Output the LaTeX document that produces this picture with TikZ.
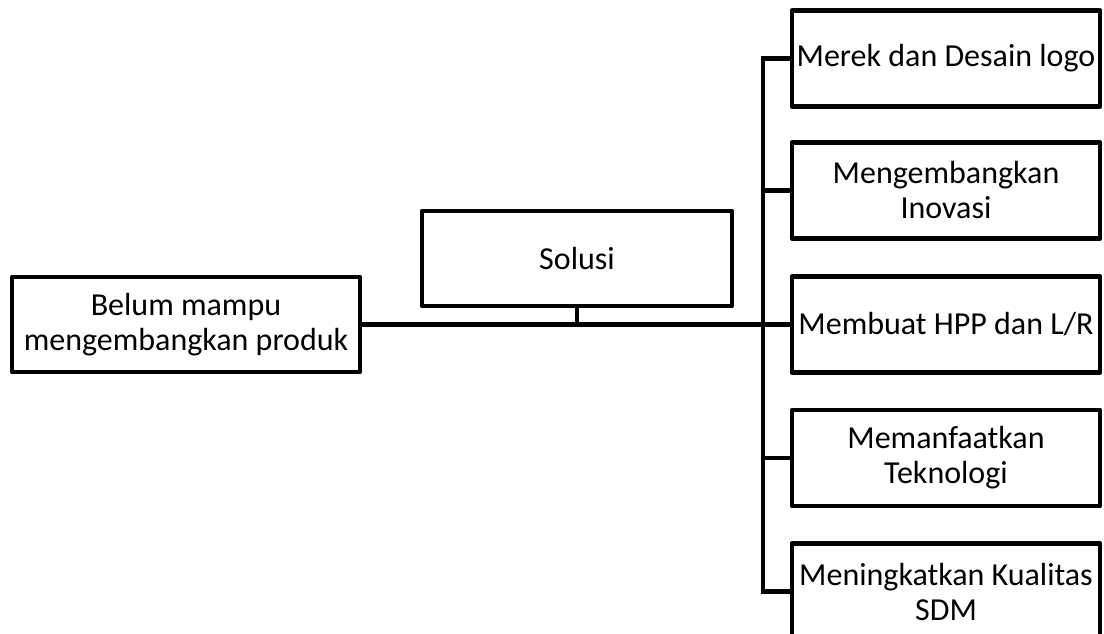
\documentclass[tikz,border=0pt]{standalone}
\usepackage{fontspec}
\setmainfont{Carlito}
\begin{document}
\begin{tikzpicture}[x=0.5pt,y=-0.5pt]
			\tikzset{kotak/.style={draw,line width=2.25pt,line join=round,align=center,inner sep=0pt,font=\fontsize{16}{17.5}\selectfont}}
			\tikzset{kanan/.style={kotak,minimum width=154pt,minimum height=48pt}}
			\tikzset{garis/.style={line width=2.25pt}}
			\useasboundingbox (0,0) rectangle (1104,633);
			\node[kotak,minimum width=174pt,minimum height=47.5pt] (masalah) at (186,324.5) {Belum mampu\\mengembangkan produk};
			\node[kotak,minimum width=155pt,minimum height=47.5pt] (solusi) at (577,258.5) {Solusi};
			\node[kanan] (merek) at (946,58.5) {Merek dan Desain logo};
			\node[kanan] (inovasi) at (946,190.5) {Mengembangkan\\Inovasi};
			\node[kanan] (hpp) at (946,324.5) {Membuat HPP dan L/R};
			\node[kanan] (teknologi) at (946,458) {Memanfaatkan\\Teknologi};
			\node[kanan] (sdm) at (946,591.5) {Meningkatkan Kualitas\\SDM};
			\coordinate (cabang) at (763,324.5);
			\draw[garis] (masalah) -- (hpp);
			\draw[garis] (solusi) -- (solusi |- masalah);
			\draw[garis] (merek) -| (cabang) |- (sdm);
			\foreach \n in {inovasi,teknologi}
				\draw[garis] (\n) -- (\n -| cabang);
		\end{tikzpicture}
\end{document}
